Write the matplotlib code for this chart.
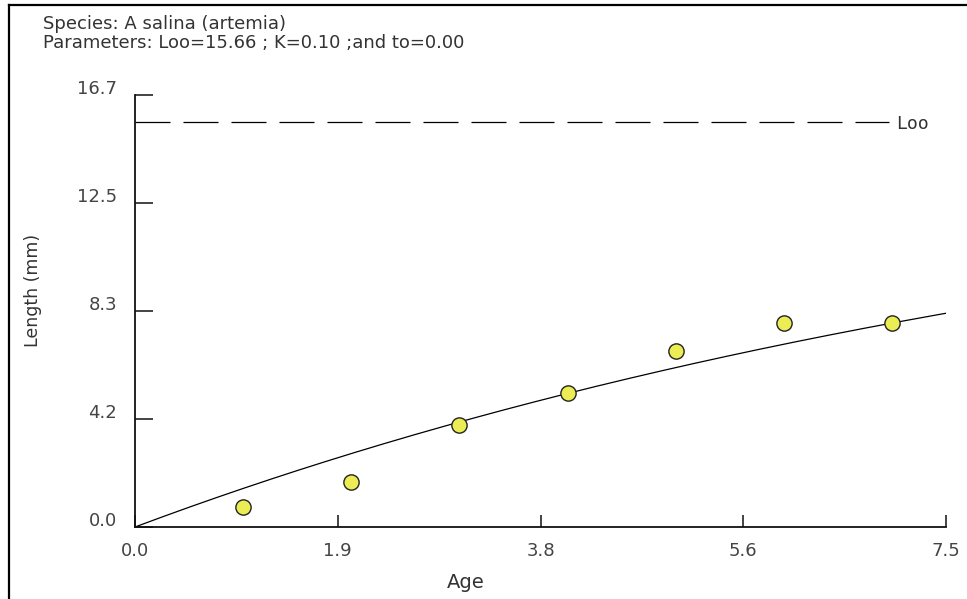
import numpy as np
import matplotlib
matplotlib.use("Agg")
import matplotlib.pyplot as plt
import matplotlib.transforms as mtransforms
from matplotlib.lines import Line2D

# ---- data ----
ages = [1, 2, 3, 4, 5, 6, 7]
lengths = [0.77, 1.74, 3.94, 5.18, 6.80, 7.89, 7.89]
Loo = 15.66
K = 0.10
t0 = 0.00
x_ticks = [0.0, 1.875, 3.75, 5.625, 7.5]
x_tick_labels = ["0.0", "1.9", "3.8", "5.6", "7.5"]
y_ticks = [0.0, 4.175, 8.35, 12.525, 16.7]
y_tick_labels = ["0.0", "4.2", "8.3", "12.5", "16.7"]
title_lines = ["Species: A salina (artemia)",
               "Parameters: Loo=15.66 ; K=0.10 ;and to=0.00"]

plt.rcParams['font.family'] = ['DejaVu Sans']
plt.rcParams['lines.scale_dashes'] = False

W, H = 967, 599
fig = plt.figure(figsize=(W / 100, H / 100), dpi=100)
fig.patch.set_facecolor('white')

left, right, top, bottom = 135, 946, 95, 527
ax = fig.add_axes([left / W, 1 - bottom / H, (right - left) / W, (bottom - top) / H])
ax.set_xlim(0, 7.5)
ax.set_ylim(0, 16.7)
for s in ['top', 'right']:
    ax.spines[s].set_visible(False)
for s in ['left', 'bottom']:
    ax.spines[s].set_linewidth(1.3)
    ax.spines[s].set_color('#111111')
ax.set_facecolor('white')

# growth curve
t = np.linspace(0, 7.5, 300)
L = Loo * (1 - np.exp(-K * (t - t0)))
ax.plot(t, L, color='black', lw=0.9, zorder=2)

# Loo asymptote
ax.axhline(Loo, xmin=0, xmax=0.93, color='black', lw=0.9,
           linestyle=(0, (35 * 0.72, 13 * 0.72)), zorder=2)
loo_off = mtransforms.ScaledTranslation(0.07, -0.02, fig.dpi_scale_trans)
ax.text(0.93, Loo, "Loo", transform=ax.get_yaxis_transform() + loo_off,
        ha='left', va='center', fontsize=13, color='#333333',
        family='DejaVu Sans Mono')

# observed points
ax.plot(ages, lengths, linestyle='none', marker='o', ms=11,
        mfc='#ecec55', mec='#222222', mew=1.0, zorder=3)

ax.set_xticks(x_ticks)
ax.set_xticklabels(x_tick_labels)
ax.set_yticks(y_ticks)
ax.set_yticklabels(y_tick_labels)
ax.tick_params(axis='y', direction='in', length=13, width=1.1, pad=13,
               labelsize=13, labelcolor='#444444', color='#111111')
ax.tick_params(axis='x', direction='in', length=9, width=1.1, pad=11,
               labelsize=13, labelcolor='#444444', color='#111111')
offset = mtransforms.ScaledTranslation(0, 0.08, fig.dpi_scale_trans)
for lbl in ax.get_yticklabels():
    lbl.set_transform(lbl.get_transform() + offset)

# axis labels
fig.text(466 / W, 1 - 582 / H, "Age", ha='center', va='center',
         fontsize=14, color='#333333')
fig.text(33 / W, 1 - 290 / H, "Length (mm)", ha='center', va='center',
         rotation=90, fontsize=12.5, color='#333333')

# header text
fig.text(43 / W, 1 - 29 / H, title_lines[0], ha='left', va='baseline',
         fontsize=13, color='#333333')
fig.text(43 / W, 1 - 48 / H, title_lines[1], ha='left', va='baseline',
         fontsize=13, color='#333333')

# outer frame (top and left)
fig.add_artist(Line2D([9 / W, 9 / W], [0, 1 - 5 / H], color='black', lw=1.6,
                      transform=fig.transFigure))
fig.add_artist(Line2D([9 / W, 1], [1 - 5 / H, 1 - 5 / H], color='black', lw=1.6,
                      transform=fig.transFigure))

fig.savefig("out.png", dpi=100, facecolor='white')
